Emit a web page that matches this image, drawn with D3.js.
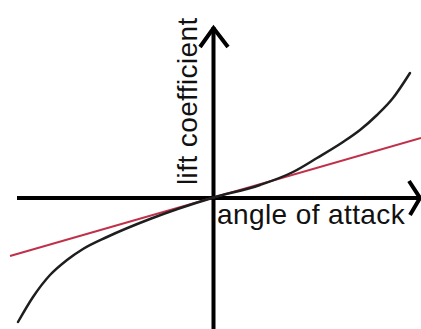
<!DOCTYPE html>
<html>
<head>
<meta charset="utf-8">
<script src="https://cdn.jsdelivr.net/npm/d3@7"></script>
<style>
  html, body { margin: 0; padding: 0; background: #fff; }
  svg { display: block; }
</style>
</head>
<body>
<svg id="chart" width="421" height="329"></svg>
<script>
// Lift coefficient vs. angle of attack (schematic units)
const curveAngle = [-9.7, -8.95, -8.1, -7.25, -6.45, -5.25, -3.1, 0, 2.4, 4.05, 5.25, 6.55, 7.4, 8.25, 9.05, 9.9];
const curveLift  = [-6.2, -4.95, -3.85, -3.1, -2.55, -1.95, -1.05, 0, 0.65, 1.3, 2.0, 2.8, 3.4, 4.15, 5.0, 6.25];

// Linear (thin-airfoil) approximation
const lineAngle = [-10.1, 10.45];
const lineLift  = [-2.9, 3.0];

const xLabel = "angle of attack";
const yLabel = "lift coefficient";

const W = 421, H = 329;
const svg = d3.select("#chart");

const x = d3.scaleLinear().domain([-10.6, 10.45]).range([0, W]);
const y = d3.scaleLinear().domain([-6.55, 9.9]).range([H, 0]);

const x0 = x(0), y0 = y(0);

// Axes with arrowheads
const axisG = svg.append("g")
  .attr("stroke", "#000")
  .attr("stroke-width", 4)
  .attr("fill", "none")
  .attr("stroke-linecap", "butt");

const xEnd = W - 1, yTop = 27;
axisG.append("line").attr("x1", 17).attr("y1", y0).attr("x2", xEnd).attr("y2", y0);
axisG.append("line").attr("x1", x0 + 1.5).attr("y1", yTop).attr("x2", x0 + 1.5).attr("y2", H);

axisG.append("polyline")
  .attr("stroke-linejoin", "miter")
  .attr("points", [[xEnd - 11, y0 - 17], [xEnd, y0], [xEnd - 10, y0 + 17]].join(" "));
axisG.append("polyline")
  .attr("stroke-linejoin", "miter")
  .attr("points", [[x0 - 12, yTop + 20], [x0 + 1.5, yTop + 1], [x0 + 16, yTop + 20]].join(" "));

// Linear approximation (red)
svg.append("path")
  .datum(d3.zip(lineAngle, lineLift))
  .attr("fill", "none")
  .attr("stroke", "#c0304a")
  .attr("stroke-width", 2)
  .attr("d", d3.line().x(d => x(d[0])).y(d => y(d[1])));

// Actual curve (black)
svg.append("path")
  .datum(d3.zip(curveAngle, curveLift))
  .attr("fill", "none")
  .attr("stroke", "#1e1e1e")
  .attr("stroke-width", 2.5)
  .attr("stroke-linecap", "round")
  .attr("d", d3.line().curve(d3.curveMonotoneX).x(d => x(d[0])).y(d => y(d[1])));

// Axis titles
svg.append("text")
  .attr("x", x0 + 5)
  .attr("y", y0 + 26)
  .attr("font-family", "Liberation Sans, Arial, sans-serif")
  .attr("font-size", 28)
  .attr("letter-spacing", 0.4)
  .attr("fill", "#111")
  .text(xLabel);

svg.append("text")
  .attr("transform", `translate(${x0 - 15},${y0 - 13}) rotate(-90)`)
  .attr("font-family", "Liberation Sans, Arial, sans-serif")
  .attr("font-size", 28)
  .attr("letter-spacing", 0.4)
  .attr("fill", "#111")
  .text(yLabel);
</script>
</body>
</html>
